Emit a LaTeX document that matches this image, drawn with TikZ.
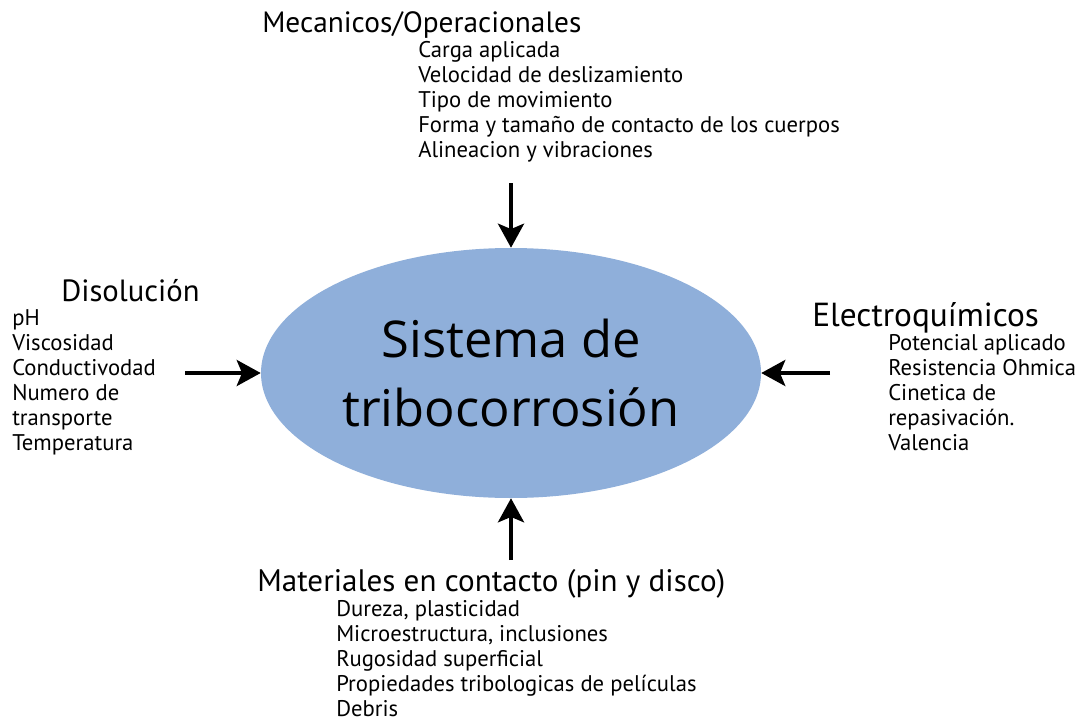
\documentclass[tikz,border=0pt]{standalone}
\usepackage{fontspec}
\setmainfont{PT Sans}
\newfontfamily\centrofont{Open Sans}
\usepackage{xcolor}
\usetikzlibrary{arrows.meta, positioning, shapes.geometric}

\definecolor{azulsistema}{RGB}{143,175,218}

\tikzset{
	titulo/.style={
		anchor=base west,
		inner sep=0pt,
		font=\fontsize{#1}{25}\selectfont
	},
	lista/.style={
		anchor=base west,
		inner sep=0pt,
		align=left,
		font=\fontsize{17}{18.75}\selectfont
	},
	flecha/.style={
		line width=3pt,
		-{Stealth[length=18pt,width=19.5pt,inset=4pt]}
	}
}

\begin{document}
\begin{tikzpicture}[x=0.75pt,y=-0.75pt]
	\useasboundingbox[fill=white] (0,0) rectangle (1082,721);
	% Sistema
	\node[
		ellipse,
		fill=azulsistema,
		minimum width=375pt,
		minimum height=187.5pt,
		inner sep=0pt,
		align=center,
		font=\centrofont\fontsize{38}{52}\selectfont
	] (sistema) at (511,373) {Sistema de\\tribocorrosi\'on};

	% Mecanicos (arriba)
	\node[titulo=22] (mecanicos) at (262,32) {Mecanicos/Operacionales};
	\node[lista] (mecanicoslista) at (418,157) {Carga aplicada\\
		Velocidad de deslizamiento\\
		Tipo de movimiento\\
		Forma y tama\~no de contacto de los cuerpos\\
		Alineacion y vibraciones};
	% Disolucion (izquierda)
	\node[titulo=23] (disolucion) at (61,301) {Disoluci\'on};
	\node[lista] (disolucionlista) at (12,450) {pH\\
		Viscosidad\\
		Conductivodad\\
		Numero de\\
		transporte\\
		Temperatura};
	% Electroquimicos (derecha)
	\node[titulo=25] (electro) at (812,326) {Electroqu\'imicos};
	\node[lista] (electrolista) at (888,450) {Potencial aplicado\\
		Resistencia Ohmica\\
		Cinetica de\\
		repasivaci\'on.\\
		Valencia};
	% Materiales (abajo)
	\node[titulo=23.3] (materiales) at (257,591) {Materiales en contacto (pin y disco)};
	\node[lista] (materialeslista) at (336,716) {Dureza, plasticidad\\
		Microestructura, inclusiones\\
		Rugosidad superficial\\
		Propiedades tribologicas de pel\'iculas\\
		Debris};

	% Pfeile
	\coordinate (arriba)    at (511,183);
	\coordinate (izquierda) at (185,373);
	\coordinate (derecha)   at (830,373);
	\coordinate (abajo)     at (511,560);
	\draw[flecha] (arriba)    to (sistema.north);
	\draw[flecha] (izquierda) to (sistema.west);
	\draw[flecha] (derecha)   to (sistema.east);
	\draw[flecha] (abajo)     to (sistema.south);
\end{tikzpicture}
\end{document}
